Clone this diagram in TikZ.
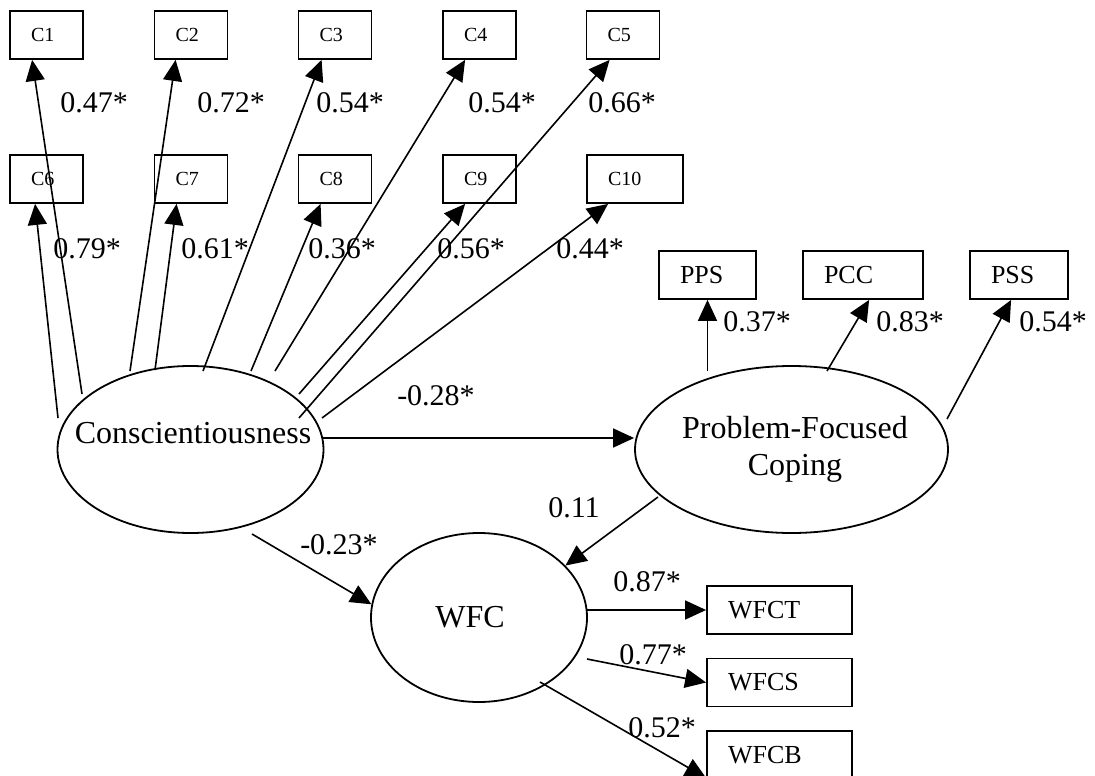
\documentclass[tikz,border=0pt]{standalone}
\usepackage{fontspec}
\setmainfont{Liberation Serif}
\usetikzlibrary{shapes.geometric,arrows.meta}
\begin{document}
\begin{tikzpicture}[x=1pt,y=-1pt,
  line width=1.7pt,
  arr/.style={-{Triangle[length=21pt,width=19pt]}, line width=1.6pt},
  ibox/.style={draw, rectangle, line width=1.8pt, minimum height=48pt, inner ysep=0pt, inner xsep=21pt, align=left, anchor=center},
  small/.style={ibox, font=\fontsize{20pt}{24pt}\selectfont, minimum width=73pt, text width=31pt},
  mid/.style={ibox, font=\fontsize{26pt}{30pt}\selectfont},
  latent/.style={draw, ellipse, line width=1.8pt, inner sep=0pt, align=center, font=\fontsize{32pt}{37pt}\selectfont},
  lab/.style={inner sep=0pt, font=\fontsize{30pt}{36pt}\selectfont}
]
\clip (0,0) rectangle (1095,776);
\fill[white] (0,0) rectangle (1095,776);

% indicator boxes for Conscientiousness
\node[small] (c1) at (46.5,35) {C1};
\node[small] (c2) at (191,35) {C2};
\node[small] (c3) at (335,35) {C3};
\node[small] (c4) at (479.5,35) {C4};
\node[small] (c5) at (623,35) {C5};
\node[small] (c6) at (46.5,179) {C6};
\node[small] (c7) at (191,179) {C7};
\node[small] (c8) at (335,179) {C8};
\node[small] (c9) at (479.5,179) {C9};
\node[small, minimum width=96pt, text width=54pt] (c10) at (635,179) {C10};

% coping indicators
\node[mid, minimum width=97pt, text width=55pt] (pps) at (707.5,275) {PPS};
\node[mid, minimum width=120pt, text width=78pt] (pcc) at (863,275) {PCC};
\node[mid, minimum width=98pt, text width=56pt] (pss) at (1019,275) {PSS};

% WFC indicators
\node[mid, minimum width=145pt, text width=103pt] (wfct) at (779.5,610) {WFCT};
\node[mid, minimum width=145pt, text width=103pt] (wfcs) at (779.5,682.5) {WFCS};
\node[mid, minimum width=145pt, text width=103pt] (wfcb) at (779.5,755) {WFCB};

% latent variables
\node[latent, minimum width=266pt, minimum height=167pt, text height=20pt, text depth=32pt] (cons) at (190.5,449.5) {\makebox[0pt]{\hspace*{5pt}Conscientiousness}};
\node[latent, minimum width=313pt, minimum height=167pt] (pfc) at (791.5,449.5) {\makebox[0pt]{\hspace*{7pt}Problem-Focused}\\\makebox[0pt]{\hspace*{7pt}Coping}};
\node[latent, minimum width=216pt, minimum height=169pt] (wfc) at (479,617.5) {\makebox[0pt]{\hspace*{-18pt}WFC}};

% start points of the connectors
\coordinate (s1) at (82,394);
\coordinate (s6) at (58,418);
\coordinate (s2) at (130,371);
\coordinate (s7) at (155,370);
\coordinate (s3) at (203,371);
\coordinate (s8) at (251,371);
\coordinate (s4) at (275,371);
\coordinate (s9) at (299,394);
\coordinate (s5) at (299,418);
\coordinate (s10) at (322,418);
\coordinate (spps) at (707.5,371);
\coordinate (spcc) at (827,371);
\coordinate (spss) at (947,419);
\coordinate (scp) at (323,438);
\coordinate (scw) at (252,534);
\coordinate (spw) at (658,497);
\coordinate (swt) at (587,610);
\coordinate (sws) at (587,659);
\coordinate (swb) at (540,682);

% loadings of Conscientiousness
\draw[arr] (s1) -- ([xshift=23pt]c1.south west);
\draw[arr] (s6) -- ([xshift=26pt]c6.south west);
\draw[arr] (s2) -- ([xshift=22pt]c2.south west);
\draw[arr] (s7) -- ([xshift=23pt]c7.south west);
\draw[arr] (s3) -- ([xshift=24pt]c3.south west);
\draw[arr] (s8) -- ([xshift=23pt]c8.south west);
\draw[arr] (s4) -- ([xshift=23pt]c4.south west);
\draw[arr] (s9) -- ([xshift=23pt]c9.south west);
\draw[arr] (s5) -- ([xshift=24pt]c5.south west);
\draw[arr] (s10) -- ([xshift=22pt]c10.south west);

% loadings of coping
\draw[arr] (spps) -- (pps.south);
\draw[arr] (spcc) -- ([xshift=67pt]pcc.south west);
\draw[arr] (spss) -- ([xshift=42pt]pss.south west);

% structural paths
\draw[arr] (scp) -- (scp -| pfc.west);
\draw[arr] (scw) -- (wfc.173);
\draw[arr] (spw) -- (wfc.31);

% loadings of WFC
\draw[arr] (swt) -- (wfct.west);
\draw[arr] (sws) -- (wfcs.west);
\draw[arr] (swb) -- ([yshift=2pt]wfcb.south west);

% labels
\node[lab] (l1) at (94,103) {0.47*};
\node[lab] (l2) at (231,103) {0.72*};
\node[lab] (l3) at (350,103) {0.54*};
\node[lab] (l4) at (502,103) {0.54*};
\node[lab] (l5) at (622,103) {0.66*};
\node[lab] (l6) at (87,249) {0.79*};
\node[lab] (l7) at (215,249) {0.61*};
\node[lab] (l8) at (342,249) {0.36*};
\node[lab] (l9) at (471,249) {0.56*};
\node[lab] (l10) at (590,249) {0.44*};
\node[lab] (lpps) at (757,322) {0.37*};
\node[lab] (lpcc) at (910,322) {0.83*};
\node[lab] (lpss) at (1053,322) {0.54*};
\node[lab] (lcp) at (436,396) {-0.28*};
\node[lab] (lcw) at (339,545) {-0.23*};
\node[lab] (lpw) at (574,508) {0.11};
\node[lab] (lwt) at (647,582) {0.87*};
\node[lab] (lws) at (653,655) {0.77*};
\node[lab] (lwb) at (662,728) {0.52*};
\end{tikzpicture}
\end{document}
